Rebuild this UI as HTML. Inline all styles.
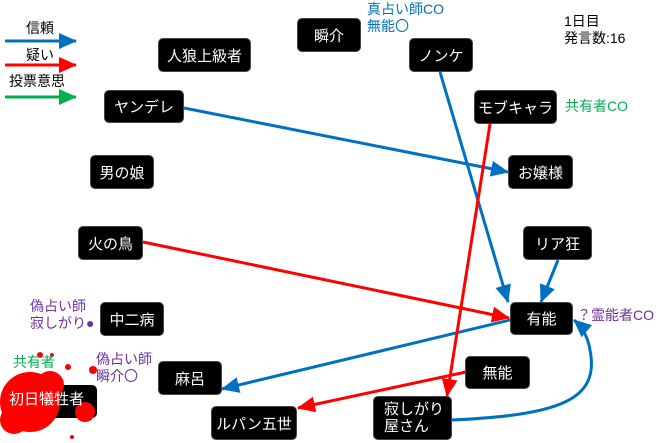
<!DOCTYPE html>
<html><head><meta charset="utf-8"><style>
body{margin:0;width:660px;height:443px;background:#fff;overflow:hidden;position:relative;font-family:"Liberation Sans","Noto Sans CJK JP",sans-serif}
.n{position:absolute;background:#000;color:#fff;border-radius:5px;font-size:15px;display:flex;align-items:center;justify-content:center;box-sizing:border-box;border:1px solid #444}
.t{position:absolute;font-size:14px;line-height:17px;white-space:nowrap}
svg{position:absolute;left:0;top:0}
</style></head><body>
<svg width="660" height="443" viewBox="0 0 660 443">
<defs>
<marker id="b" markerWidth="18" markerHeight="16" refX="17" refY="8" orient="auto" markerUnits="userSpaceOnUse" viewBox="0 0 18 16"><path d="M0,0L18,8L0,16z" fill="#0070c0"/></marker>
<marker id="r" markerWidth="18" markerHeight="16" refX="17" refY="8" orient="auto" markerUnits="userSpaceOnUse" viewBox="0 0 18 16"><path d="M0,0L18,8L0,16z" fill="#ff0000"/></marker>
<marker id="g" markerWidth="18" markerHeight="16" refX="17" refY="8" orient="auto" markerUnits="userSpaceOnUse" viewBox="0 0 18 16"><path d="M0,0L18,8L0,16z" fill="#00b050"/></marker>
</defs>
<g stroke-width="3" fill="none">
<line x1="184" y1="108" x2="508" y2="172" stroke="#0070c0" marker-end="url(#b)"/>
<line x1="440" y1="72" x2="508" y2="302" stroke="#0070c0" marker-end="url(#b)"/>
<line x1="558" y1="260" x2="541" y2="302" stroke="#0070c0" marker-end="url(#b)"/>
<line x1="510" y1="320" x2="222" y2="389" stroke="#0070c0" marker-end="url(#b)"/>
<path d="M452,420 C560,415 600,400 590,350 C588,337 582,327 574,320" stroke="#0070c0" marker-end="url(#b)"/>
<line x1="490" y1="124" x2="447" y2="396" stroke="#ff0000" marker-end="url(#r)"/>
<line x1="143" y1="242" x2="509" y2="318" stroke="#ff0000" marker-end="url(#r)"/>
<line x1="466" y1="372" x2="298" y2="408" stroke="#ff0000" marker-end="url(#r)"/>
<line x1="5" y1="41" x2="76" y2="41" stroke="#0070c0" marker-end="url(#b)"/>
<line x1="5" y1="65" x2="76" y2="65" stroke="#ff0000" marker-end="url(#r)"/>
<line x1="5" y1="97" x2="76" y2="97" stroke="#00b050" marker-end="url(#g)"/>
</g>
</svg>
<div class="t" style="left:26px;top:20px">信頼</div>
<div class="t" style="left:26px;top:47px">疑い</div>
<div class="t" style="left:9px;top:73px">投票意思</div>
<div class="n" style="left:158px;top:38px;width:93px;height:34px">人狼上級者</div>
<div class="n" style="left:297px;top:18px;width:64px;height:34px">瞬介</div>
<div class="n" style="left:409px;top:38px;width:64px;height:34px">ノンケ</div>
<div class="n" style="left:104px;top:90px;width:80px;height:33px">ヤンデレ</div>
<div class="n" style="left:474px;top:90px;width:83px;height:34px">モブキャラ</div>
<div class="n" style="left:90px;top:155px;width:64px;height:34px">男の娘</div>
<div class="n" style="left:508px;top:155px;width:65px;height:34px">お嬢様</div>
<div class="n" style="left:78px;top:226px;width:65px;height:34px">火の鳥</div>
<div class="n" style="left:523px;top:226px;width:69px;height:34px">リア狂</div>
<div class="n" style="left:100px;top:302px;width:64px;height:34px">中二病</div>
<div class="n" style="left:510px;top:302px;width:63px;height:33px">有能</div>
<div class="n" style="left:158px;top:361px;width:64px;height:34px">麻呂</div>
<div class="n" style="left:465px;top:356px;width:65px;height:33px">無能</div>
<div class="n" style="left:211px;top:406px;width:86px;height:34px">ルパン五世</div>
<div class="n" style="left:373px;top:396px;width:79px;height:44px;justify-content:flex-start;padding-left:10px;line-height:17px">寂しがり<br>屋さん</div>
<div style="position:absolute;left:3px;top:385px;width:94px;height:33px;background:#000;border-radius:5px"></div>
<svg width="660" height="443" viewBox="0 0 660 443"><g fill="#ff0000">
<circle cx="30" cy="402" r="30"/><circle cx="85" cy="412" r="10"/><circle cx="50" cy="385" r="14"/><circle cx="14" cy="420" r="14"/>
<circle cx="40" cy="355" r="3"/><circle cx="52" cy="355" r="2"/><circle cx="68" cy="367" r="3"/><circle cx="93" cy="370" r="4"/><circle cx="72" cy="437" r="2"/>
</g></svg>
<div class="t" style="left:9px;top:391px;color:#fff;font-size:15px">初日犠牲者</div>
<div class="t" style="left:367px;top:1px;color:#0070c0">真占い師CO<br>無能〇</div>
<div class="t" style="left:564px;top:13px;color:#000">1日目<br>発言数:16</div>
<div class="t" style="left:565px;top:98px;color:#00b050">共有者CO</div>
<div class="t" style="left:577px;top:307px;color:#7030a0">？霊能者CO</div>
<div class="t" style="left:30px;top:298px;color:#7030a0">偽占い師<br>寂しがり●</div>
<div class="t" style="left:96px;top:351px;color:#7030a0">偽占い師<br>瞬介〇</div>
<div class="t" style="left:13px;top:354px;color:#00b050">共有者</div>
</body></html>
